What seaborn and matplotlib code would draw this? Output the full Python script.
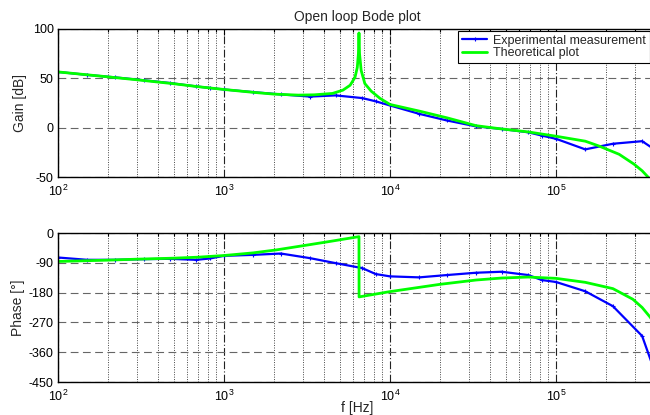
import matplotlib
matplotlib.use('Agg')
import matplotlib.pyplot as plt
import seaborn as sns
from matplotlib.ticker import LogLocator, NullFormatter

# measured points (E6-ish frequencies)
f_exp = [100, 150, 220, 330, 470, 680, 820, 1000, 1500, 2200, 3300, 4700, 6800, 8200,
         10000, 15000, 22000, 33000, 47000, 68000, 82000, 100000, 150000, 220000, 330000, 470000]
gain_exp = [56.5, 53.5, 51, 48, 45.3, 41.8, 40.3, 38.7, 36, 33.7, 31.5, 32.7, 30, 26.7,
            22.5, 14, 7.3, 1.3, -1.3, -4.7, -8, -11.3, -22, -16.3, -13.7, -31]
phase_exp = [-74, -81, -81, -79, -78, -81, -77, -69, -66, -62, -76, -91, -106, -124,
             -131, -134, -127, -120, -117, -127, -142, -148, -176, -221, -311, -528]

# theoretical curve
f_th_gain = [100, 200, 300, 500, 700, 1000, 1500, 2000, 2800, 3500, 4500, 5200, 5750, 6150,
             6350, 6450, 6500, 6550, 6700, 7050, 7700, 8700, 10000, 15000, 22000, 33000,
             47000, 68000, 100000, 150000, 182000, 240000, 295000, 330000, 358000, 400000]
gain_th = [56.5, 51.5, 48.5, 44.5, 41.5, 38.7, 35.8, 34, 33, 33.3, 34.7, 38, 43, 51,
           61, 75, 96, 75, 58, 44.7, 37, 29.7, 23.5, 16.8, 10, 2,
           -1.3, -4.3, -8.7, -13.7, -18.7, -27, -37, -43.7, -50, -60]
f_th_phase = [100, 200, 300, 500, 700, 1000, 1500, 2070, 3300, 4400, 6500, 6510, 10000, 20000,
              33000, 47000, 68000, 100000, 150000, 220000, 290000, 330000, 370000, 400000]
phase_th = [-86, -82, -79, -76, -73, -68, -60, -51, -35, -25, -11, -193, -177, -155,
            -142, -136, -133, -137, -149, -168, -200, -225, -255, -285]

gain_ticks = [-50, 0, 50, 100]
phase_ticks = [-450, -360, -270, -180, -90, 0]

sns.set_style('white')
plt.rcParams['font.family'] = ['Liberation Sans', 'DejaVu Sans']
plt.rcParams['mathtext.fontset'] = 'custom'
plt.rcParams['mathtext.rm'] = 'Liberation Sans'
plt.rcParams['mathtext.it'] = 'Liberation Sans:italic'
plt.rcParams['mathtext.bf'] = 'Liberation Sans:bold'
plt.rcParams['axes.unicode_minus'] = False

W, H = 650, 415
fig = plt.figure(figsize=(W / 100, H / 100), dpi=100)
fig.patch.set_facecolor('white')


def box(l, t, r, b):
    return [l / W, 1 - b / H, (r - l) / W, (b - t) / H]


ax1 = fig.add_axes(box(58, 29, 656, 177))
ax2 = fig.add_axes(box(58, 233, 656, 382))

blue = '#0000ff'
green = '#00ff00'

sns.lineplot(x=f_exp, y=gain_exp, ax=ax1, color=blue, linewidth=1.6, marker='+', ms=3,
             mew=0.8, mec=blue, estimator=None, sort=False, label='Experimental measurement')
sns.lineplot(x=f_th_gain, y=gain_th, ax=ax1, color=green, linewidth=2, estimator=None,
             sort=False, label='Theoretical plot')
sns.lineplot(x=f_exp, y=phase_exp, ax=ax2, color=blue, linewidth=1.6, marker='+', ms=3,
             mew=0.8, mec=blue, estimator=None, sort=False)
sns.lineplot(x=f_th_phase, y=phase_th, ax=ax2, color=green, linewidth=2, estimator=None,
             sort=False)

for ax, ticks in [(ax1, gain_ticks), (ax2, phase_ticks)]:
    ax.set_xscale('log')
    ax.set_xlim(100, 4e5)
    ax.set_ylim(ticks[0], ticks[-1])
    ax.set_yticks(ticks)
    ax.xaxis.set_major_locator(LogLocator(base=10))
    ax.xaxis.set_minor_locator(LogLocator(base=10, subs=range(2, 10)))
    ax.xaxis.set_minor_formatter(NullFormatter())
    ax.tick_params(which='both', direction='in', top=True, right=True, colors='black',
                   labelsize=9, width=0.8)
    ax.tick_params(which='major', length=4)
    ax.tick_params(which='minor', length=2.5)
    ax.tick_params(axis='x', pad=5)
    ax.tick_params(axis='y', pad=3)
    ax.grid(which='major', axis='y', linestyle=(0, (7, 4)), color='#666666', linewidth=0.8)
    ax.grid(which='major', axis='x', linestyle=(0, (7, 2, 1, 2)), color='#222222', linewidth=0.8)
    ax.grid(which='minor', axis='x', linestyle=(0, (1, 1.5)), color='#444444', linewidth=0.7)
    for s in ax.spines.values():
        s.set_color('black')
        s.set_linewidth(1)
    ax.set_xlabel('')

ax1.set_title('Open loop Bode plot', fontsize=10, pad=5.4)
ax1.set_ylabel('Gain [dB]', fontsize=10)
ax1.yaxis.set_label_coords(-0.052, 0.5)
ax2.set_ylabel('Phase [°]', fontsize=10)
ax2.yaxis.set_label_coords(-0.055, 0.5)
ax2.set_xlabel('f [Hz]', fontsize=10)
ax2.xaxis.set_label_coords(0.5, -0.125)

leg = ax1.legend(loc='upper right', bbox_to_anchor=(650 / W, 1 - 31 / H),
                 bbox_transform=fig.transFigure, frameon=True, fancybox=False,
                 edgecolor='black', framealpha=1, fontsize=9, borderpad=0.3,
                 labelspacing=0.05, handlelength=2, handletextpad=0.5, borderaxespad=0)
leg.get_frame().set_linewidth(0.8)
if ax2.get_legend() is not None:
    ax2.get_legend().remove()

fig.savefig('out.png', dpi=100)
